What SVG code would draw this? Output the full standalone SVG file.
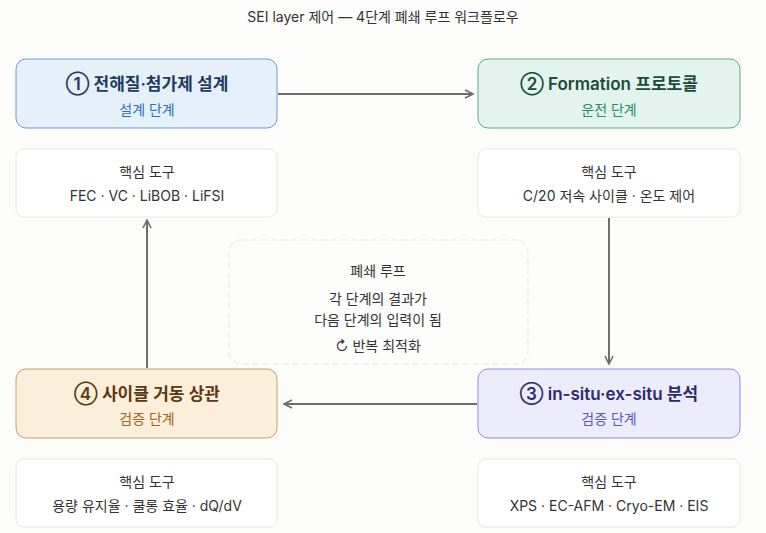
<svg xmlns="http://www.w3.org/2000/svg" width="766" height="533" viewBox="0 0 766 533">
<style>
text{font-family:Inter,"Noto Sans CJK KR",sans-serif;text-anchor:middle}
.t{font-size:17px;font-weight:600}
.s{font-size:14px}
.tool{fill:#ffffff;stroke:#e6e6e3;stroke-width:1}
.tt{font-size:14px;fill:#333}
.c{stroke:#6e6e6e;stroke-width:2;fill:none}
</style>
<defs><marker id="a" viewBox="0 0 10 10" refX="9" refY="5" markerWidth="10" markerHeight="10" markerUnits="userSpaceOnUse" orient="auto"><path d="M1,1 L9,5 L1,9" fill="none" stroke="#6e6e6e" stroke-width="1.6"/></marker></defs>
<rect width="766" height="533" fill="#fcfcfb"/>
<text x="383" y="22" font-size="14" fill="#333">SEI layer 제어 — 4단계 폐쇄 루프 워크플로우</text>
<g id="connectors">
<path class="c" d="M278,94 H473" marker-end="url(#a)"/>
<path class="c" d="M609,218 V364" marker-end="url(#a)"/>
<path class="c" d="M477,404 H284" marker-end="url(#a)"/>
<path class="c" d="M147,368 V220" marker-end="url(#a)"/>
</g>
<g id="loop">
<rect x="229" y="240" width="299" height="124" rx="12" fill="none" stroke="#e3e3e0" stroke-dasharray="6 4"/>
<text x="378" y="276" class="tt">폐쇄 루프</text>
<text x="378" y="304" class="tt">각 단계의 결과가</text>
<text x="378" y="325" class="tt">다음 단계의 입력이 됨</text>
<text x="378" y="351" class="tt">↻ 반복 최적화</text>
</g>
<g id="n1"><rect x="16" y="59" width="261" height="69" rx="10" fill="#e6f0fb" stroke="#6b9bd6"/>
<text x="147" y="90" class="t" fill="#1e3a5f">① 전해질·첨가제 설계</text><text x="147" y="115" class="s" fill="#2f6fb5">설계 단계</text></g>
<g id="t1"><rect class="tool" x="16" y="149" width="261" height="68" rx="8"/>
<text x="147" y="177" class="tt">핵심 도구</text><text x="147" y="201" class="tt" fill="#222">FEC · VC · LiBOB · LiFSI</text></g>
<g id="n2"><rect x="478" y="59" width="262" height="69" rx="10" fill="#e3f4ee" stroke="#5aa88a"/>
<text x="609" y="90" class="t" fill="#1f4a3a">② Formation 프로토콜</text><text x="609" y="115" class="s" fill="#2e8a66">운전 단계</text></g>
<g id="t2"><rect class="tool" x="478" y="149" width="262" height="68" rx="8"/>
<text x="609" y="177" class="tt">핵심 도구</text><text x="609" y="201" class="tt" fill="#222">C/20 저속 사이클 · 온도 제어</text></g>
<g id="n3"><rect x="478" y="369" width="262" height="69" rx="10" fill="#ececfd" stroke="#8f8de6"/>
<text x="609" y="400" class="t" fill="#2e2a6b">③ in-situ·ex-situ 분석</text><text x="609" y="424" class="s" fill="#5b55c9">검증 단계</text></g>
<g id="t3"><rect class="tool" x="478" y="459" width="262" height="68" rx="8"/>
<text x="609" y="487" class="tt">핵심 도구</text><text x="609" y="511" class="tt" fill="#222">XPS · EC-AFM · Cryo-EM · EIS</text></g>
<g id="n4"><rect x="16" y="369" width="261" height="69" rx="10" fill="#fbeedb" stroke="#c9a068"/>
<text x="147" y="400" class="t" fill="#5a3a10">④ 사이클 거동 상관</text><text x="147" y="424" class="s" fill="#a0651a">검증 단계</text></g>
<g id="t4"><rect class="tool" x="16" y="459" width="261" height="68" rx="8"/>
<text x="147" y="487" class="tt">핵심 도구</text><text x="147" y="511" class="tt" fill="#222">용량 유지율 · 쿨롱 효율 · dQ/dV</text></g>
</svg>
